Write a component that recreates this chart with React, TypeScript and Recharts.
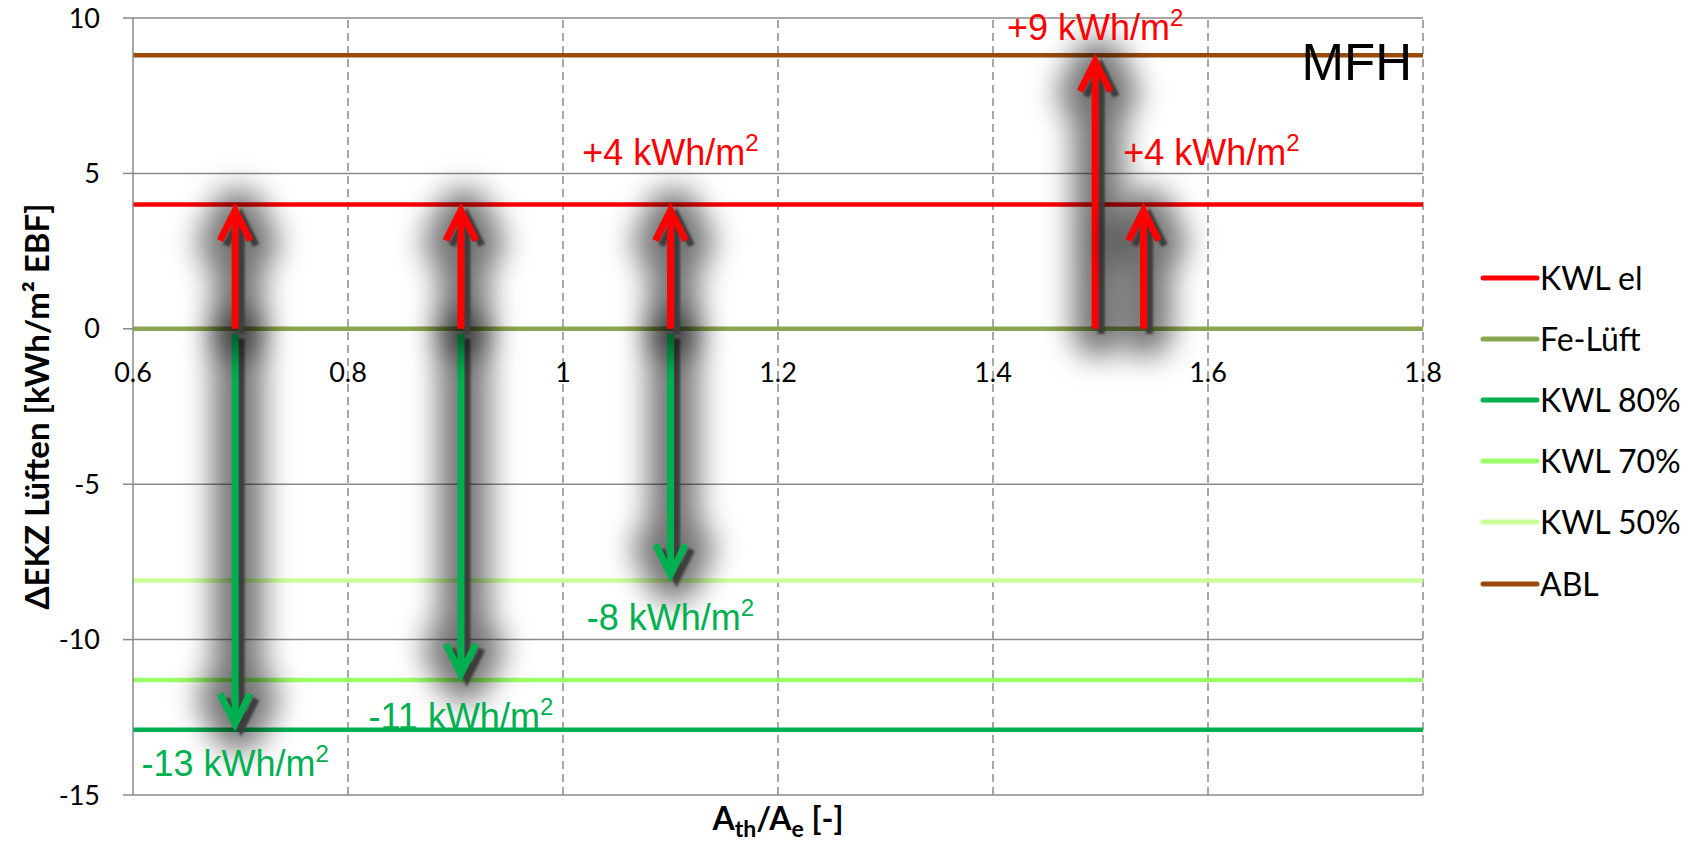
import { ComposedChart, Line, XAxis, YAxis, CartesianGrid, ReferenceLine, ReferenceDot, Legend } from 'recharts';

const xTicks = [0.6, 0.8, 1.0, 1.2, 1.4, 1.6, 1.8];
const yTicks = [-15, -10, -5, 0, 5, 10];

// Mehr-/Minderverbrauch je Lüftungsvariante, bezogen auf Fensterlüftung
const seriesNames = ['KWL el', 'Fe-Lüft', 'KWL 80%', 'KWL 70%', 'KWL 50%', 'ABL'];
const seriesLevels = [4.0, 0, -12.9, -11.3, -8.1, 8.8];
const seriesColors = ['#ff0000', '#8aa64e', '#00b050', '#99ff66', '#ccff99', '#9a4b0c'];

// Gebäude (A_th/A_e) und die Variante, auf die der Pfeil ab Fe-Lüft zeigt
const arrowRatios = [0.695, 0.695, 0.905, 0.905, 1.1, 1.1, 1.495, 1.54];
const arrowTargets = ['KWL 80%', 'KWL el', 'KWL 70%', 'KWL el', 'KWL 50%', 'KWL el', 'ABL', 'KWL el'];
const arrowLabelled = [true, false, true, false, true, true, true, true];

const W = 1698;
const H = 844;
const RED = '#ff0000';
const GREEN = '#00b050';
const GRID = '#8a8a8a';
const TICK_FONT = 'Lato, "Open Sans", sans-serif';
const NOTE_FONT = '"Liberation Sans", Arial, sans-serif';

// pixel offset of each callout (dx, baseline dy) from the arrow tip
const labelOffset = [[0, 46], [0, 0], [0, 49], [0, 0], [0, 49], [0, -39], [0, -15], [68, -39]];

const levelOf = (name: string) => seriesLevels[seriesNames.indexOf(name)];
const baseLevel = levelOf('Fe-Lüft');

const levelRows = [xTicks[0], xTicks[xTicks.length - 1]].map((x) => {
  const row: Record<string, number> = { x };
  seriesNames.forEach((n, i) => {
    row[n] = seriesLevels[i];
  });
  return row;
});

const makeArrow = (i: number) => (props: any) => {
  const { x1, y1, x2, y2 } = props;
  if ([x1, y1, x2, y2].some((v) => typeof v !== 'number' || isNaN(v))) return <g />;
  const value = levelOf(arrowTargets[i]) - baseLevel;
  const up = value > 0;
  const color = up ? RED : GREEN;
  const back = up ? 1 : -1;
  const tipY = y2 + back * 6;
  const startY = up ? y1 : y1 + 5;
  const d = `M${x1},${startY} L${x1},${tipY} M${x1 - 15},${tipY + back * 30} L${x1},${tipY} L${x1 + 15},${tipY + back * 30}`;
  const [dx, dy] = labelOffset[i];
  const rounded = Math.round(value);
  const text = `${rounded > 0 ? '+' : ''}${rounded} kWh/m`;
  return (
    <g>
      <path d={d} transform="translate(3,3)" fill="none" stroke="#000" strokeOpacity={0.55} strokeWidth={50} strokeLinecap="round" strokeLinejoin="round" filter="url(#arrowHalo)" />
      <path d={d} transform="translate(6,5)" fill="none" stroke="#3c3c3c" strokeWidth={7} strokeLinejoin="miter" filter="url(#arrowEdge)" />
      <path d={d} fill="none" stroke={color} strokeWidth={7} strokeLinejoin="miter" />
      {arrowLabelled[i] && (
        <text x={x2 + dx} y={y2 + dy} textAnchor="middle" fill={color} fontSize={36} fontFamily={NOTE_FONT}>
          {text}
          <tspan fontSize={24} dy={-14}>2</tspan>
        </text>
      )}
    </g>
  );
};

const renderYTitle = (p: any) => {
  const vb = p.viewBox;
  const cx = 36;
  const cy = vb.y + vb.height / 2;
  return (
    <text x={cx} y={cy} transform={`rotate(-90 ${cx} ${cy})`} textAnchor="middle" dominantBaseline="central"
      fontFamily={TICK_FONT} fontWeight={700} fontSize={33} fill="#000">
      ΔEKZ Lüften [kWh/m² EBF]
    </text>
  );
};

// x title sits under the bottom edge of the plot, anchored at the middle of the x range
const renderXTitle = (p: any) => {
  const vb = p.viewBox;
  const cx = vb.x + vb.width / 2;
  const base = vb.y + 35;
  return (
    <text x={cx} y={base} textAnchor="middle" fontFamily={TICK_FONT} fontWeight={700} fontSize={32} fill="#000">
      A<tspan fontSize={23} dy={7}>th</tspan>
      <tspan dy={-7}>/A</tspan>
      <tspan fontSize={23} dy={7}>e</tspan>
      <tspan dy={-7}> [-]</tspan>
    </text>
  );
};

const renderLegend = () => (
  <div style={{ fontFamily: TICK_FONT, fontSize: 32, color: '#000' }}>
    {seriesNames.map((n, i) => (
      <div key={n} style={{ display: 'flex', alignItems: 'center', height: 61.2 }}>
        <svg width={60} height={10} style={{ display: 'block' }}>
          <line x1={3} x2={57} y1={5} y2={5} stroke={seriesColors[i]} strokeWidth={5} strokeLinecap="round" />
        </svg>
        <span style={{ marginLeft: 0, lineHeight: 1 }}>{n}</span>
      </div>
    ))}
  </div>
);

const renderMfh = (p: any) => {
  const vb = p.viewBox;
  return (
    <text x={vb.x - 11} y={vb.y + 62} textAnchor="end" fontFamily={NOTE_FONT} fontSize={51} fill="#000">
      MFH
    </text>
  );
};

export default function App() {
  const xMid = (xTicks[0] + xTicks[xTicks.length - 1]) / 2;
  return (
    <div style={{ position: 'absolute', left: 0, top: 0, width: W, height: H, background: '#fff' }}>
      <svg width={0} height={0} style={{ position: 'absolute' }}>
        <defs>
          <filter id="arrowHalo" filterUnits="userSpaceOnUse" x={0} y={0} width={W} height={H}>
            <feGaussianBlur stdDeviation={15} />
          </filter>
          <filter id="arrowEdge" filterUnits="userSpaceOnUse" x={0} y={0} width={W} height={H}>
            <feGaussianBlur stdDeviation={1.2} />
          </filter>
        </defs>
      </svg>
      <ComposedChart width={W} height={H} data={levelRows} margin={{ top: 18, right: 275, bottom: 49, left: 0 }}>
        <CartesianGrid vertical={false} stroke={GRID} strokeWidth={1.5} />
        <XAxis type="number" dataKey="x" domain={[0.6, 1.8]} ticks={xTicks} height={0}
          axisLine={false} tickLine={false} tick={false} />
        <YAxis type="number" domain={[-15, 10]} ticks={yTicks} interval={0} width={133}
          axisLine={{ stroke: GRID, strokeWidth: 1.5 }} tickLine={{ stroke: GRID, strokeWidth: 1.5 }}
          tickSize={10} tickMargin={23} tick={{ fill: '#000', fontSize: 27, fontFamily: TICK_FONT }}
          label={{ content: renderYTitle }} />
        {xTicks.slice(1).map((t) => (
          <ReferenceLine key={`v${t}`} x={t} stroke={GRID} strokeWidth={1.5} strokeDasharray="8 5" />
        ))}
        {xTicks.map((t) => (
          <ReferenceDot key={`t${t}`} x={t} y={0} r={0} fill="none" stroke="none"
            label={{ value: String(t), position: 'bottom', offset: 34, fill: '#000', fontSize: 27, fontFamily: TICK_FONT }} />
        ))}
        {seriesNames.map((n, i) => (
          <Line key={n} dataKey={n} name={n} stroke={seriesColors[i]} strokeWidth={4.5} dot={false}
            activeDot={false} isAnimationActive={false} />
        ))}
        {arrowRatios.map((x, i) => (
          <ReferenceLine key={`a${i}`} segment={[{ x, y: baseLevel }, { x, y: levelOf(arrowTargets[i]) }]}
            shape={makeArrow(i)} />
        ))}
        <ReferenceDot x={1.8} y={10} r={0} fill="none" stroke="none" label={{ content: renderMfh }} />
        <ReferenceDot x={xMid} y={yTicks[0]} r={0} fill="none" stroke="none"
          label={{ content: (p: any) => renderXTitle({ viewBox: { x: p.viewBox.x, y: p.viewBox.y, width: 0 } }) }} />
        <Legend layout="vertical" align="center" verticalAlign="middle" content={renderLegend}
          wrapperStyle={{ left: 1480, top: 247, width: 218 }} />
      </ComposedChart>
    </div>
  );
}
